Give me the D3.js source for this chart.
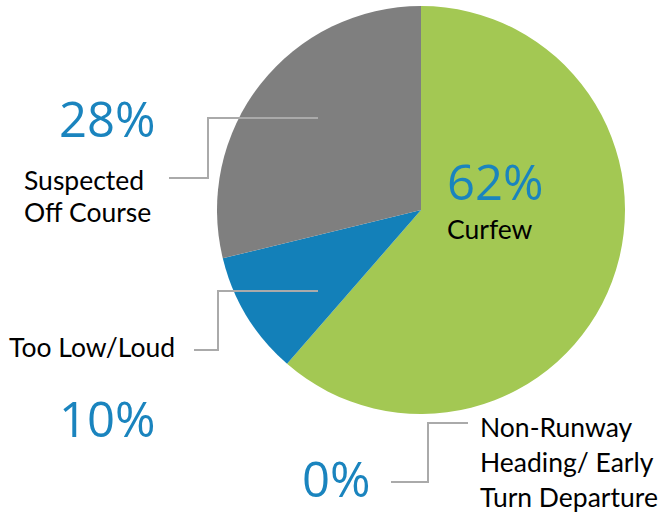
<!DOCTYPE html>
<html>
<head>
<meta charset="utf-8">
<script src="https://cdn.jsdelivr.net/npm/d3@7"></script>
<style>
  body { margin: 0; background: #fff; }
  .pct { font-family: "Open Sans", sans-serif; fill: #1a84be; }
  .lbl { font-family: Lato, "Noto Sans", sans-serif; fill: #000; }
  .leader { fill: none; stroke: #aaaaaa; stroke-width: 2; }
</style>
</head>
<body>
<svg id="chart" width="664" height="518"></svg>
<script>
// slice order, clockwise from 12 o'clock
var categories = ["Non-Runway Heading/ Early Turn Departure", "Curfew", "Too Low/Loud", "Suspected Off Course"];
var values = [0, 61.4, 9.8, 28.8];
var pctText = ["0%", "62%", "10%", "28%"];
var colors = ["#e07b39", "#a3c853", "#1380b9", "#7f7f7f"];

var svg = d3.select("svg#chart");

var cx = 421, cy = 210, radius = 204;

var pie = d3.pie().sort(null).value(function(d) { return d; });
var arc = d3.arc().innerRadius(0).outerRadius(radius);

var g = svg.append("g").attr("transform", "translate(" + cx + "," + cy + ")");

g.selectAll("path")
  .data(pie(values))
  .enter().append("path")
  .attr("d", arc)
  .attr("fill", function(d, i) { return colors[i]; })
  .attr("stroke", function(d, i) { return d.value === 0 ? colors[i] : "none"; })
  .attr("stroke-width", 1);

// leader lines (annotation layout)
var leaders = [
  [[318, 118], [208, 118], [208, 178], [169, 178]],
  [[318, 291], [218, 291], [218, 350], [194, 350]],
  [[391, 482], [428, 482], [428, 423], [468, 423]]
];
svg.selectAll("path.leader")
  .data(leaders)
  .enter().append("path")
  .attr("class", "leader")
  .attr("d", d3.line());

// percentage labels
var pctLabels = [
  {i: 1, x: 447, y: 200},
  {i: 3, x: 59, y: 137},
  {i: 2, x: 59, y: 437},
  {i: 0, x: 302, y: 497}
];
svg.selectAll("text.pct")
  .data(pctLabels)
  .enter().append("text")
  .attr("class", "pct")
  .attr("x", function(d) { return d.x; })
  .attr("y", function(d) { return d.y; })
  .style("font-size", "49px")
  .text(function(d) { return pctText[d.i]; });

// category labels
var catLines = [
  {x: 447, y: 239, dy: 32, lines: ["Curfew"]},
  {x: 24, y: 190, dy: 32, lines: ["Suspected", "Off Course"]},
  {x: 9, y: 357, dy: 32, lines: ["Too Low/Loud"]},
  {x: 480, y: 437, dy: 35, lines: ["Non-Runway", "Heading/ Early", "Turn Departure"]}
];
var t = svg.selectAll("text.lbl")
  .data(catLines)
  .enter().append("text")
  .attr("class", "lbl")
  .attr("x", function(d) { return d.x; })
  .attr("y", function(d) { return d.y; })
  .style("font-size", "26.5px");
t.selectAll("tspan")
  .data(function(d) { return d.lines.map(function(l) { return {x: d.x, dy: d.dy, l: l}; }); })
  .enter().append("tspan")
  .attr("x", function(d) { return d.x; })
  .attr("dy", function(d, i) { return i === 0 ? 0 : d.dy; })
  .text(function(d) { return d.l; });
</script>
</body>
</html>
